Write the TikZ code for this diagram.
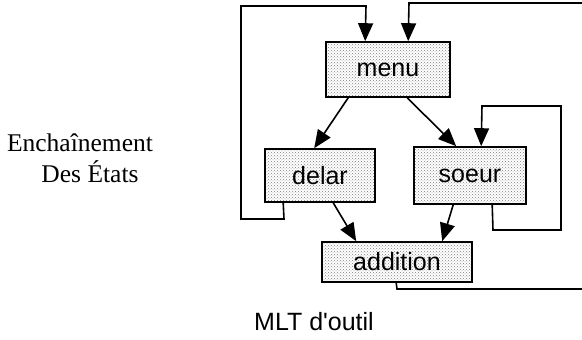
\documentclass[tikz,border=0pt]{standalone}
\usepackage{fontspec}
\setmainfont{Liberation Serif}
\setsansfont{Liberation Sans}
\newfontfamily\arialplain{Liberation Sans}
\usetikzlibrary{arrows.meta,patterns}
\tikzset{
  box/.style={draw, line width=1.6pt, pattern=crosshatch dots, pattern color=black!50,
    inner sep=0pt, font=\sffamily\fontsize{25}{30}\selectfont},
  link/.style={line width=1.6pt, -{Triangle[length=18pt,width=15pt]}},
  wire/.style={line width=1.6pt}
}
\begin{document}
\begin{tikzpicture}[x=1pt,y=-1pt]
\useasboundingbox (0,0) rectangle (582,340);
\node[box, minimum width=124pt, minimum height=55pt] (menu) at (388,69.5) {menu};
\node[box, minimum width=110pt, minimum height=53pt] (delar) at (320,175.5) {delar};
\node[box, minimum width=112pt, minimum height=57pt] (soeur) at (470,175.5) {soeur};
\node[box, minimum width=150pt, minimum height=40pt] (addition) at (397,262) {addition};

\node[font=\fontsize{25.5}{30}\selectfont] (t1) at (80,143) {Enchaînement};
\node[font=\fontsize{25.5}{30}\selectfont] (t2) at (90,172) {Des États};
\node[font=\arialplain\fontsize{25}{30}\selectfont] (t3) at (314,322) {MLT d'outil};

% diagonal arrows
\draw[link] ([xshift=23pt]menu.south west) -- ([xshift=50pt]delar.north west);
\draw[link] ([xshift=82pt]menu.south west) -- ([xshift=43pt]soeur.north west);
\draw[link] ([xshift=69pt]delar.south west) -- ([xshift=35pt]addition.north west);
\draw[link] ([xshift=40pt]soeur.south west) -- ([xshift=121pt]addition.north west);

% left loop delar -> menu
\coordinate (l1) at (284,219);
\coordinate (l2) at (241,219);
\coordinate (l3) at (241,6);
\coordinate (l4) at (366,6);
\draw[link] ([xshift=19pt]delar.south west) -- (l1) -- (l2) -- (l3) -- (l4) -- ([xshift=40pt]menu.north west);

% addition -> menu (off the right edge)
\coordinate (r1) at (397,289);
\coordinate (r2) at (582,289);
\coordinate (r3) at (582,3);
\coordinate (r4) at (409,3);
\draw[wire] ([xshift=75pt]addition.south west) -- (r1) -- (r2);
\draw[link] (r3) -- (r4) -- ([xshift=83pt]menu.north west);

% soeur self loop
\coordinate (s1) at (493,230);
\coordinate (s2) at (561,230);
\coordinate (s3) at (561,106);
\coordinate (s4) at (482,106);
\draw[link] ([xshift=79pt]soeur.south west) -- (s1) -- (s2) -- (s3) -- (s4) -- ([xshift=68pt]soeur.north west);
\end{tikzpicture}
\end{document}
